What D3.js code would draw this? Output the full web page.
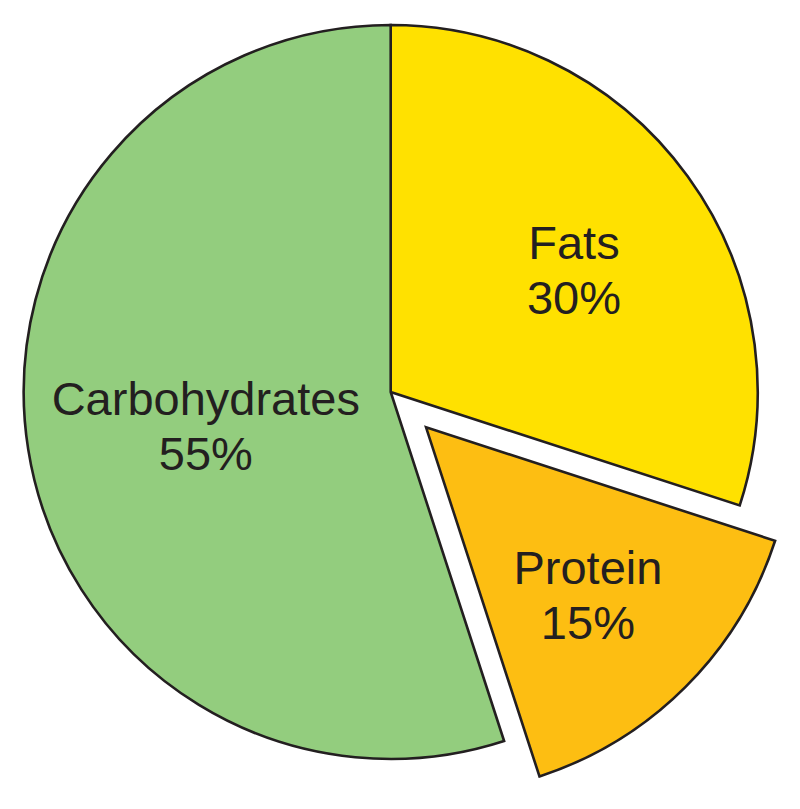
<!DOCTYPE html>
<html>
<head>
<meta charset="utf-8">
<script src="https://cdn.jsdelivr.net/npm/d3@7"></script>
<style>
html,body{margin:0;padding:0;background:#fff;}
svg{display:block;}
</style>
</head>
<body>
<svg id="chart" width="800" height="809"></svg>
<script>
const categories = ["Fats", "Protein", "Carbohydrates"];
const values = [30, 15, 55];
const labels = ["30%", "15%", "55%"];
const colors = ["#FFE100", "#FDBE12", "#93CD7E"];

const W = 800, H = 809;
const cx = 390.7, cy = 392, R = 367;
const explode = { "Protein": 50 };
// label placement (polar, relative to slice origin)
const labelPos = {
  "Fats": { ang: 56.4, r: 220 },
  "Protein": { ang: 136, r: 233 },
  "Carbohydrates": { ang: 259.6, r: 188 }
};

const svg = d3.select("#chart");
const g = svg.append("g").attr("transform", `translate(${cx},${cy})`);

const data = categories.map((c, i) => ({ cat: c, value: values[i], label: labels[i], color: colors[i] }));
const pie = d3.pie().value(d => d.value).sort(null);
const arc = d3.arc().innerRadius(0).outerRadius(R);
const arcs = pie(data);

const slices = g.selectAll("g.slice").data(arcs).join("g")
  .attr("class", "slice")
  .attr("transform", d => {
    const off = explode[d.data.cat] || 0;
    const mid = (d.startAngle + d.endAngle) / 2;
    return `translate(${off * Math.sin(mid)},${-off * Math.cos(mid)})`;
  });

slices.append("path")
  .attr("d", arc)
  .attr("fill", d => d.data.color)
  .attr("stroke", "#231F20")
  .attr("stroke-width", 2.6)
  .attr("stroke-linejoin", "miter");

slices.each(function(d) {
  const lp = labelPos[d.data.cat];
  const a = lp.ang * Math.PI / 180;
  const x = lp.r * Math.sin(a), y = -lp.r * Math.cos(a);
  const t = d3.select(this).append("text")
    .attr("text-anchor", "middle")
    .attr("font-family", "'Liberation Sans', Arial, Helvetica, sans-serif")
    .attr("font-size", 47)
    .attr("fill", "#231F20");
  t.append("tspan").attr("x", x).attr("y", y - 11).text(d.data.cat);
  t.append("tspan").attr("x", x).attr("y", y + 44).text(d.data.label);
});
</script>
</body>
</html>
